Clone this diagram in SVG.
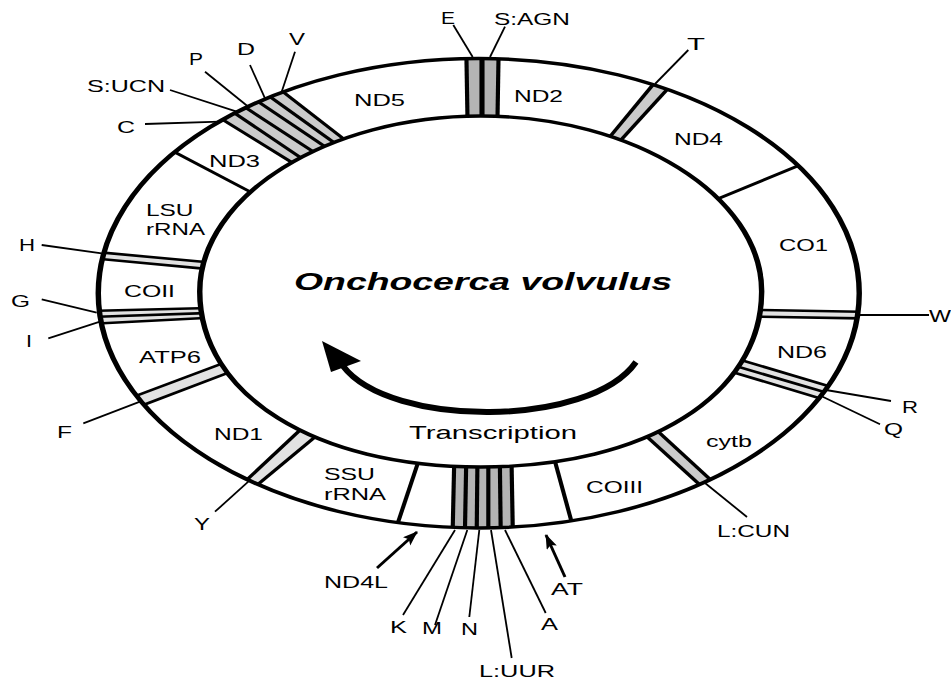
<svg xmlns="http://www.w3.org/2000/svg" width="951" height="678" viewBox="0 0 951 678">
<style>
.ln{stroke:#000;stroke-width:2.6;fill:none}
.lnb{stroke:#000;stroke-width:3.2;fill:none}
.ring{stroke:#000;stroke-width:3.4;fill:none}
.sd{fill:#b4b4b4}
.sm{fill:#cbcbcb}
.sl{fill:#e2e2e2}
.ld{stroke:#000;stroke-width:1.8;fill:none}
.ar{stroke:#000;stroke-width:3;fill:none}
text{font-family:"Liberation Sans",Arial,Helvetica,sans-serif;font-size:16.5px;fill:#000}
.big{font-size:18px}
.title{font-size:23px;font-weight:bold;font-style:italic}
</style>
<defs>
<clipPath id="ringclip">
<path clip-rule="evenodd" d="M537.02,293.25 A237.8,234.75 0 1 0 61.42,293.25 A237.8,234.75 0 1 0 537.02,293.25 Z M476.04,291.5 C476.04,395 404.04,467 300.44,467 C196.84,467 124.84,395 124.84,291.5 C124.84,195.9 204.74,116 300.44,116 C396.14,116 476.04,195.9 476.04,291.5 Z"/>
</clipPath>
<marker id="ah" markerUnits="userSpaceOnUse" markerWidth="16" markerHeight="12" refX="14" refY="5.5" orient="auto">
<path d="M0,0 L15,5.5 L0,11 L3,5.5 Z" fill="#000"/>
</marker>
</defs>
<rect width="951" height="678" fill="#fff"/>

<g id="map" transform="scale(1.6,1)">
<g id="segments" clip-path="url(#ringclip)">
<g id="trna-E"><polygon class="sd" points="292.3,130 291.4,46 301.25,46 301.25,130"/></g>
<g id="trna-SAGN"><polygon class="sd" points="301.25,130 301.25,46 311.7,46 310.8,130"/></g>
<g id="trna-T"><polygon class="sm" points="375.9,147 413.3,74.7 422.3,80.1 382.9,149.2"/></g>
<g id="trna-W"><polygon class="sl" points="465.4,309.7 547.1,312 547.1,318.6 465.4,316.4"/></g>
<g id="trna-R"><polygon class="sl" points="454.4,355.8 525.8,389.9 525,396.6 452.1,362.4"/></g>
<g id="trna-Q"><polygon class="sl" points="452.1,362.4 525,396.6 522.9,403.3 450,368.3"/></g>
<g id="trna-LCUN"><polygon class="sm" points="405,422.2 450.2,488.8 444.4,495 396.3,425"/></g>
<g id="trna-K"><polygon class="sd" points="283.9,460.4 282.8,539.6 290.5,539.6 291.4,460.4"/></g>
<g id="trna-M"><polygon class="sd" points="291.4,460.4 290.5,539.6 297.9,539.6 298.4,460.4"/></g>
<g id="trna-N"><polygon class="sd" points="298.4,460.4 297.9,539.6 305.2,539.6 305.2,460.4"/></g>
<g id="trna-LUUR"><polygon class="sd" points="305.2,460.4 305.2,539.6 313,539.6 312.4,460.4"/></g>
<g id="trna-A"><polygon class="sd" points="312.4,460.4 313,539.6 320.6,539.6 319.7,460.4"/></g>
<g id="trna-Y"><polygon class="sl" points="192.9,422 147.7,489.7 154.6,493.1 202.7,429.2"/></g>
<g id="trna-F"><polygon class="sl" points="146.4,359 76.4,401 79.1,411.3 152.1,367"/></g>
<g id="trna-G"><polygon class="sl" points="137.5,307.8 50,311.2 50,317.4 137.5,312.6"/></g>
<g id="trna-I"><polygon class="sl" points="137.5,312.6 50,317.4 52.25,324.3 137.1,317.3"/></g>
<g id="trna-H"><polygon class="sl" points="138.4,263.5 52.3,250.9 52.5,257.5 137.1,270.1"/></g>
<g id="trna-C"><polygon class="sm" points="192.1,172 130.8,111.3 138.5,104.3 196.9,167.3"/></g>
<g id="trna-SUCN"><polygon class="sm" points="196.9,167.3 138.5,104.3 145.9,99.6 204.1,160.4"/></g>
<g id="trna-P"><polygon class="sm" points="204.1,160.4 145.9,99.6 153.1,92.7 211.5,155.7"/></g>
<g id="trna-D"><polygon class="sm" points="211.5,155.7 153.1,92.7 160.6,87.4 217.5,152.6"/></g>
<g id="trna-V"><polygon class="sm" points="217.5,152.6 160.6,87.4 170.6,84 223.1,149.3"/></g>

<g id="boundaries">
<line class="ln" x1="292.3" y1="130" x2="291.4" y2="46"/>
<line class="lnb" x1="301.25" y1="130" x2="301.25" y2="46"/>
<line class="ln" x1="310.8" y1="130" x2="311.7" y2="46"/>
<line class="ln" x1="375.9" y1="147" x2="413.3" y2="74.7"/>
<line class="ln" x1="382.9" y1="149.2" x2="422.3" y2="80.1"/>
<line class="ln" x1="440.6" y1="204.2" x2="506.3" y2="160.8"/>
<line class="ln" x1="465.4" y1="309.7" x2="547.1" y2="312"/>
<line class="ln" x1="465.4" y1="316.4" x2="547.1" y2="318.6"/>
<line class="ln" x1="454.4" y1="355.8" x2="525.8" y2="389.9"/>
<line class="ln" x1="452.1" y1="362.4" x2="525" y2="396.6"/>
<line class="ln" x1="450" y1="368.3" x2="522.9" y2="403.3"/>
<line class="ln" x1="405" y1="422.2" x2="450.2" y2="488.8"/>
<line class="ln" x1="396.3" y1="425" x2="444.4" y2="495"/>
<line class="ln" x1="345.6" y1="454" x2="358.8" y2="531"/>
<line class="ln" x1="283.9" y1="460.4" x2="282.8" y2="539.6"/>
<line class="ln" x1="291.4" y1="460.4" x2="290.5" y2="539.6"/>
<line class="ln" x1="298.4" y1="460.4" x2="297.9" y2="539.6"/>
<line class="ln" x1="305.2" y1="460.4" x2="305.2" y2="539.6"/>
<line class="ln" x1="312.4" y1="460.4" x2="313" y2="539.6"/>
<line class="ln" x1="319.7" y1="460.4" x2="320.6" y2="539.6"/>
<line class="ln" x1="262.7" y1="455.7" x2="246.6" y2="532.7"/>
<line class="ln" x1="192.9" y1="422" x2="147.7" y2="489.7"/>
<line class="ln" x1="202.7" y1="429.2" x2="154.6" y2="493.1"/>
<line class="ln" x1="146.4" y1="359" x2="76.4" y2="401"/>
<line class="ln" x1="152.1" y1="367" x2="79.1" y2="411.3"/>
<line class="ln" x1="137.5" y1="307.8" x2="50" y2="311.2"/>
<line class="ln" x1="137.5" y1="312.6" x2="50" y2="317.4"/>
<line class="ln" x1="137.1" y1="317.3" x2="52.25" y2="324.3"/>
<line class="ln" x1="138.4" y1="263.5" x2="52.3" y2="250.9"/>
<line class="ln" x1="137.1" y1="270.1" x2="52.5" y2="257.5"/>
<line class="ln" x1="165.2" y1="199.2" x2="102.5" y2="146.5"/>
<line class="ln" x1="192.1" y1="172" x2="130.8" y2="111.3"/>
<line class="ln" x1="196.9" y1="167.3" x2="138.5" y2="104.3"/>
<line class="ln" x1="204.1" y1="160.4" x2="145.9" y2="99.6"/>
<line class="ln" x1="211.5" y1="155.7" x2="153.1" y2="92.7"/>
<line class="ln" x1="217.5" y1="152.6" x2="160.6" y2="87.4"/>
<line class="ln" x1="223.1" y1="149.3" x2="170.6" y2="84"/>
</g>
</g>
<g id="ring">
<ellipse class="ring" cx="299.22" cy="293.25" rx="237.8" ry="234.75"/>
<path class="ring" d="M476.04,291.5 C476.04,395 404.04,467 300.44,467 C196.84,467 124.84,395 124.84,291.5 C124.84,195.9 204.74,116 300.44,116 C396.14,116 476.04,195.9 476.04,291.5 Z"/>
</g>
</g>

<g id="connectors">
<line class="ld" x1="453.3" y1="25" x2="472.7" y2="57"/>
<line class="ld" x1="505" y1="26.7" x2="490" y2="57"/>
<line class="ld" x1="688.3" y1="50" x2="655" y2="84"/>
<line class="ld" x1="858" y1="315" x2="929" y2="315"/>
<line class="ld" x1="826" y1="390" x2="891" y2="401"/>
<line class="ld" x1="822.7" y1="396.7" x2="880" y2="424.3"/>
<line class="ld" x1="705" y1="483" x2="747" y2="517"/>
<line class="ld" x1="455" y1="530" x2="403" y2="615"/>
<line class="ld" x1="467.3" y1="530" x2="435" y2="625"/>
<line class="ld" x1="479.3" y1="530" x2="469.3" y2="617"/>
<line class="ld" x1="491" y1="530" x2="511.7" y2="658"/>
<line class="ld" x1="505" y1="530" x2="545.7" y2="613"/>
<line class="ld" x1="248.3" y1="481.7" x2="215" y2="511.7"/>
<line class="ld" x1="140" y1="401.7" x2="83.3" y2="423.3"/>
<line class="ld" x1="100" y1="321.7" x2="48.3" y2="338.3"/>
<line class="ld" x1="96.7" y1="312.7" x2="41.7" y2="299.3"/>
<line class="ld" x1="101.7" y1="253.3" x2="41.7" y2="245"/>
<line class="ld" x1="220" y1="121.7" x2="145" y2="124"/>
<line class="ld" x1="236.7" y1="111.7" x2="170" y2="90"/>
<line class="ld" x1="248.3" y1="106.7" x2="205" y2="71.7"/>
<line class="ld" x1="265" y1="98.3" x2="250" y2="65"/>
<line class="ld" x1="281.7" y1="91.7" x2="295" y2="51.7"/>
<line class="ar" x1="377" y1="568" x2="417" y2="532" marker-end="url(#ah)"/>
<line class="ar" x1="565" y1="577" x2="546" y2="535" marker-end="url(#ah)"/>
<path d="M636,362 C590,428 390,428 343,366" fill="none" stroke="#000" stroke-width="6"/>
<polygon points="322,341 331,372 361,361" fill="#000"/>
</g>

<g id="labels">
<g id="lbl-title"><text class="title" x="294" y="290" textLength="378" lengthAdjust="spacingAndGlyphs">Onchocerca volvulus</text></g>
<g id="lbl-transcription"><text class="big" x="409" y="439" textLength="168" lengthAdjust="spacingAndGlyphs">Transcription</text></g>
<g id="lbl-E"><text x="441" y="23.5" textLength="14" lengthAdjust="spacingAndGlyphs">E</text></g>
<g id="lbl-SAGN"><text x="494" y="25" textLength="76" lengthAdjust="spacingAndGlyphs">S:AGN</text></g>
<g id="lbl-T"><text x="687" y="50" textLength="18" lengthAdjust="spacingAndGlyphs">T</text></g>
<g id="lbl-ND5"><text x="354" y="106" textLength="51" lengthAdjust="spacingAndGlyphs">ND5</text></g>
<g id="lbl-ND2"><text x="514" y="101.7" textLength="49" lengthAdjust="spacingAndGlyphs">ND2</text></g>
<g id="lbl-ND4"><text x="674" y="145" textLength="49" lengthAdjust="spacingAndGlyphs">ND4</text></g>
<g id="lbl-CO1"><text x="779" y="250.7" textLength="49" lengthAdjust="spacingAndGlyphs">CO1</text></g>
<g id="lbl-W"><text x="929" y="322" textLength="22" lengthAdjust="spacingAndGlyphs">W</text></g>
<g id="lbl-ND6"><text x="777" y="358.3" textLength="50" lengthAdjust="spacingAndGlyphs">ND6</text></g>
<g id="lbl-R"><text x="902" y="413.3" textLength="16" lengthAdjust="spacingAndGlyphs">R</text></g>
<g id="lbl-Q"><text x="884" y="435" textLength="19" lengthAdjust="spacingAndGlyphs">Q</text></g>
<g id="lbl-cytb"><text x="706" y="446.5" textLength="46" lengthAdjust="spacingAndGlyphs">cytb</text></g>
<g id="lbl-LCUN"><text x="717" y="537" textLength="73" lengthAdjust="spacingAndGlyphs">L:CUN</text></g>
<g id="lbl-COIII"><text x="586" y="492.7" textLength="57" lengthAdjust="spacingAndGlyphs">COIII</text></g>
<g id="lbl-AT"><text x="551" y="595" textLength="32" lengthAdjust="spacingAndGlyphs">AT</text></g>
<g id="lbl-A"><text x="541" y="630" textLength="17" lengthAdjust="spacingAndGlyphs">A</text></g>
<g id="lbl-LUUR"><text x="479" y="676.7" textLength="76" lengthAdjust="spacingAndGlyphs">L:UUR</text></g>
<g id="lbl-N"><text x="461" y="635" textLength="17" lengthAdjust="spacingAndGlyphs">N</text></g>
<g id="lbl-M"><text x="422" y="634" textLength="20" lengthAdjust="spacingAndGlyphs">M</text></g>
<g id="lbl-K"><text x="390" y="632.5" textLength="17" lengthAdjust="spacingAndGlyphs">K</text></g>
<g id="lbl-ND4L"><text x="324" y="588.3" textLength="64" lengthAdjust="spacingAndGlyphs">ND4L</text></g>
<g id="lbl-SSU"><text x="324" y="480" textLength="51" lengthAdjust="spacingAndGlyphs">SSU</text><text x="324" y="500" textLength="62" lengthAdjust="spacingAndGlyphs">rRNA</text></g>
<g id="lbl-Y"><text x="194" y="530" textLength="16" lengthAdjust="spacingAndGlyphs">Y</text></g>
<g id="lbl-ND1"><text x="214" y="440" textLength="49" lengthAdjust="spacingAndGlyphs">ND1</text></g>
<g id="lbl-F"><text x="57" y="438" textLength="15" lengthAdjust="spacingAndGlyphs">F</text></g>
<g id="lbl-ATP6"><text x="139" y="363.3" textLength="62" lengthAdjust="spacingAndGlyphs">ATP6</text></g>
<g id="lbl-I"><text x="26" y="347" textLength="6" lengthAdjust="spacingAndGlyphs">I</text></g>
<g id="lbl-G"><text x="11" y="307" textLength="19" lengthAdjust="spacingAndGlyphs">G</text></g>
<g id="lbl-COII"><text x="124" y="296.7" textLength="51" lengthAdjust="spacingAndGlyphs">COII</text></g>
<g id="lbl-H"><text x="19" y="250.7" textLength="16" lengthAdjust="spacingAndGlyphs">H</text></g>
<g id="lbl-LSU"><text x="146" y="216" textLength="47.5" lengthAdjust="spacingAndGlyphs">LSU</text><text x="146" y="235" textLength="59" lengthAdjust="spacingAndGlyphs">rRNA</text></g>
<g id="lbl-ND3"><text x="209" y="166.7" textLength="51" lengthAdjust="spacingAndGlyphs">ND3</text></g>
<g id="lbl-C"><text x="117" y="132.5" textLength="18" lengthAdjust="spacingAndGlyphs">C</text></g>
<g id="lbl-SUCN"><text x="87" y="91.5" textLength="78" lengthAdjust="spacingAndGlyphs">S:UCN</text></g>
<g id="lbl-P"><text x="189" y="65" textLength="14" lengthAdjust="spacingAndGlyphs">P</text></g>
<g id="lbl-D"><text x="237" y="55" textLength="18" lengthAdjust="spacingAndGlyphs">D</text></g>
<g id="lbl-V"><text x="289" y="45" textLength="16" lengthAdjust="spacingAndGlyphs">V</text></g>
</g>
</svg>
